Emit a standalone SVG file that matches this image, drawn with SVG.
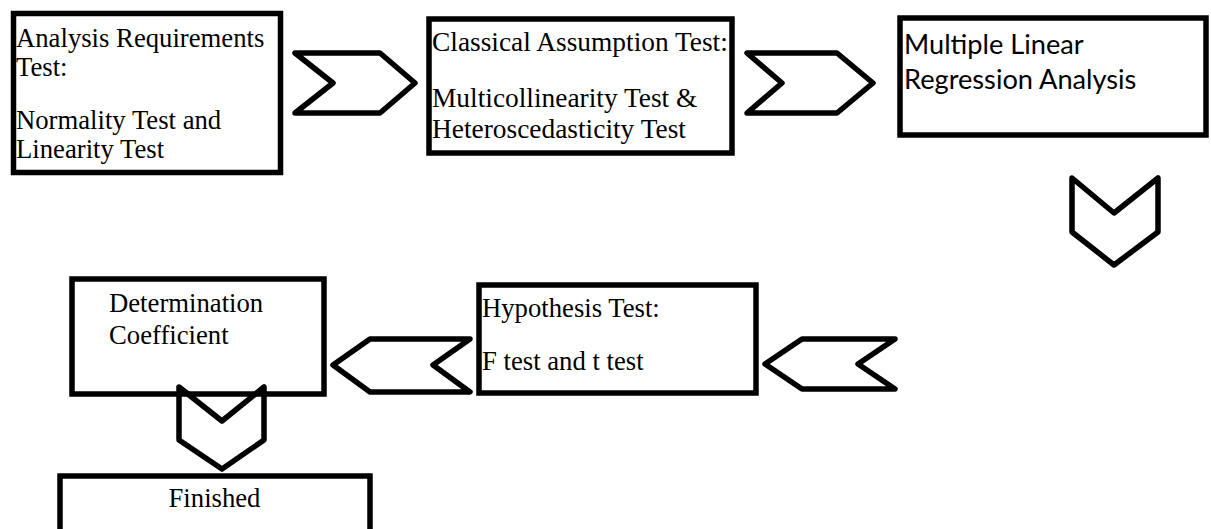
<svg xmlns="http://www.w3.org/2000/svg" width="1211" height="529" viewBox="0 0 1211 529">
<style>
.box{fill:#fff;stroke:#000;stroke-width:5.5}
.chev{fill:none;stroke:#000;stroke-width:5.5;stroke-linejoin:round}
.t{font-family:"Liberation Serif","Times New Roman",serif;font-size:26.7px;fill:#000}
.t2{font-size:27.4px}
.s{font-family:Lato,"Liberation Sans",sans-serif;font-size:27.2px;fill:#000}
</style>
<rect width="1211" height="529" fill="#fff"/>
<g id="n1">
<rect class="box" x="13.5" y="13.5" width="267" height="159"/>
<text class="t" x="16" y="47">Analysis Requirements</text>
<text class="t" x="16" y="76">Test:</text>
<text class="t" x="16" y="129">Normality Test and</text>
<text class="t" x="16" y="158">Linearity Test</text>
</g>
<g id="n2">
<rect class="box" x="429" y="19" width="303" height="134"/>
<text class="t t2" x="432" y="51">Classical Assumption Test:</text>
<text class="t t2" x="432" y="107">Multicollinearity Test &amp;</text>
<text class="t t2" x="432" y="138">Heteroscedasticity Test</text>
</g>
<g id="n3">
<rect class="box" x="900" y="18" width="306" height="117"/>
<text class="s" x="904" y="54">Multiple Linear</text>
<text class="s" x="904" y="89">Regression Analysis</text>
</g>
<g id="n4">
<rect class="box" x="479" y="285" width="277" height="108"/>
<text class="t" x="482" y="317">Hypothesis Test:</text>
<text class="t" x="482" y="370">F test and t test</text>
</g>
<g id="n5">
<rect class="box" x="72" y="279" width="252" height="115"/>
<text class="t" x="109" y="312">Determination</text>
<text class="t" x="109" y="344">Coefficient</text>
</g>
<g id="n6">
<rect class="box" x="60" y="476" width="310" height="70"/>
<text class="t" x="214.5" y="507" text-anchor="middle">Finished</text>
</g>
<g id="connectors">
<polygon class="chev" points="295,53 380,53 415,83 380,113 295,113 333,83"/>
<polygon class="chev" points="747,53 837,53 873,83 837,113 747,113 782,83"/>
<polygon class="chev" points="1072,178 1114,213 1158,178 1158,232 1114,265 1072,232"/>
<polygon class="chev" points="802,339 895,339 858,364 895,389 802,389 765,364"/>
<polygon class="chev" points="370,339 470,339 433,365 470,392 370,392 333,365"/>
<polygon class="chev" points="179,387 222,421 264,387 264,440 222,469 179,440"/>
</g>
</svg>
